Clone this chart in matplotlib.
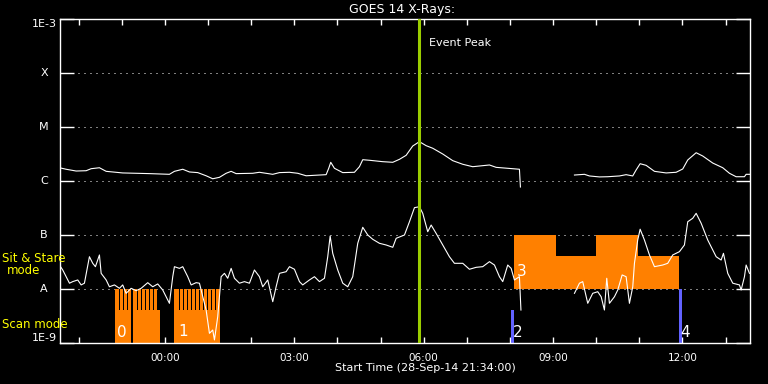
import numpy as np
import matplotlib
matplotlib.use('Agg')
import matplotlib.pyplot as plt
import matplotlib.transforms as mtransforms

# time axis: hours relative to 00:00 on 29-Sep-14 (start 21:34 the day before)
t_start, t_end = -2 - 26 / 60, 13 + 34 / 60
event_peak = 5.88

# GOES long channel (1-8 A)
long_t = [-2.446, -2.291, -2.059, -1.827, -1.711, -1.519, -1.363, -0.979, -0.359, 0.104,
          0.220, 0.413, 0.568, 0.761, 0.955, 1.108, 1.264, 1.419, 1.535, 1.651,
          2.036, 2.191, 2.500, 2.655, 2.887, 3.080, 3.274, 3.738, 3.798, 3.845,
          3.930, 4.123, 4.394, 4.510, 4.587, 4.742, 5.050, 5.283, 5.438, 5.593,
          5.746, 5.901, 6.057, 6.210, 6.442, 6.674, 6.906, 7.137, 7.525, 7.680,
          8.220, 8.243, 8.300,
          9.496, 9.728, 9.843, 10.075, 10.268, 10.539, 10.694, 10.847, 10.926, 11.019,
          11.158, 11.351, 11.622, 11.854, 12.007, 12.123, 12.318, 12.471, 12.703, 12.935,
          13.090, 13.245, 13.438, 13.477, 13.554]
long_f = [1.76e-6, 1.65e-6, 1.53e-6, 1.55e-6, 1.69e-6, 1.76e-6, 1.51e-6, 1.41e-6, 1.37e-6, 1.33e-6,
          1.51e-6, 1.65e-6, 1.47e-6, 1.43e-6, 1.25e-6, 1.10e-6, 1.17e-6, 1.39e-6, 1.51e-6, 1.37e-6,
          1.39e-6, 1.45e-6, 1.33e-6, 1.43e-6, 1.45e-6, 1.39e-6, 1.25e-6, 1.31e-6, 1.72e-6, 2.22e-6,
          1.72e-6, 1.43e-6, 1.45e-6, 1.84e-6, 2.48e-6, 2.42e-6, 2.28e-6, 2.22e-6, 2.52e-6, 2.99e-6,
          4.45e-6, 5.35e-6, 4.51e-6, 4.04e-6, 3.16e-6, 2.38e-6, 2.04e-6, 1.84e-6, 1.98e-6, 1.79e-6,
          1.65e-6, 7.74e-7, np.nan,
          1.29e-6, 1.33e-6, 1.24e-6, 1.19e-6, 1.20e-6, 1.24e-6, 1.31e-6, 1.24e-6, 1.60e-6, 2.09e-6,
          1.95e-6, 1.51e-6, 1.41e-6, 1.45e-6, 1.67e-6, 2.45e-6, 3.34e-6, 2.90e-6, 2.15e-6, 1.76e-6,
          1.39e-6, 1.20e-6, 1.20e-6, 1.33e-6, 1.33e-6]

# GOES short channel (0.5-4 A)
short_t = [-2.446, -2.370, -2.214, -2.138, -2.022, -1.943, -1.867, -1.751, -1.674, -1.612,
           -1.519, -1.479, -1.363, -1.287, -1.171, -1.055, -0.979, -0.900, -0.784, -0.668,
           -0.552, -0.399, -0.283, -0.167, -0.051, 0.104, 0.181, 0.220, 0.336, 0.413,
           0.529, 0.608, 0.723, 0.800, 0.877, 0.955, 1.032, 1.108, 1.148, 1.224,
           1.303, 1.380, 1.456, 1.535, 1.612, 1.728, 1.843, 1.959, 2.075, 2.191,
           2.268, 2.384, 2.500, 2.578, 2.655, 2.810, 2.887, 3.003, 3.119, 3.195,
           3.351, 3.467, 3.583, 3.699, 3.775, 3.831, 3.891, 4.007, 4.123, 4.239,
           4.355, 4.471, 4.587, 4.703, 4.819, 4.974, 5.130, 5.283, 5.362, 5.554,
           5.670, 5.786, 5.901, 5.978, 6.094, 6.173, 6.289, 6.442, 6.597, 6.713,
           6.906, 7.061, 7.217, 7.369, 7.525, 7.641, 7.757, 7.833, 7.949, 8.028,
           8.104, 8.220, 8.255, 8.300,
           9.496, 9.612, 9.688, 9.804, 9.920, 10.036, 10.115, 10.191, 10.245, 10.307,
           10.423, 10.500, 10.602, 10.694, 10.771, 10.848, 10.887, 10.963, 11.019, 11.119,
           11.235, 11.351, 11.543, 11.659, 11.775, 11.930, 12.046, 12.123, 12.239, 12.318,
           12.434, 12.587, 12.782, 12.897, 12.951, 13.051, 13.167, 13.322, 13.361, 13.438,
           13.477, 13.554]
short_f = [2.78e-8, 2.25e-8, 1.28e-8, 1.37e-8, 1.47e-8, 1.19e-8, 1.28e-8, 3.96e-8, 2.99e-8, 2.59e-8,
           4.27e-8, 1.95e-8, 1.47e-8, 1.10e-8, 1.19e-8, 1.03e-8, 1.19e-8, 8.32e-9, 1.03e-8, 9.31e-9,
           1.03e-8, 1.31e-8, 1.10e-8, 1.24e-8, 9.58e-9, 5.43e-9, 1.69e-8, 2.59e-8, 2.41e-8, 2.59e-8,
           1.69e-8, 1.19e-8, 1.31e-8, 1.28e-8, 7.19e-9, 4.08e-9, 1.51e-9, 1.74e-9, 1.14e-9, 3.07e-9,
           1.69e-8, 1.95e-8, 1.58e-8, 2.41e-8, 1.58e-8, 1.28e-8, 1.37e-8, 1.28e-8, 2.25e-8, 1.69e-8,
           1.10e-8, 1.47e-8, 5.82e-9, 1.10e-8, 1.95e-8, 2.09e-8, 2.59e-8, 2.32e-8, 1.37e-8, 1.19e-8,
           1.47e-8, 1.69e-8, 1.37e-8, 1.58e-8, 3.96e-8, 9.57e-8, 4.58e-8, 2.25e-8, 1.28e-8, 1.10e-8,
           1.69e-8, 7.02e-8, 1.39e-7, 1.00e-7, 8.32e-8, 7.02e-8, 6.53e-8, 5.92e-8, 8.69e-8, 1.00e-7,
           1.76e-7, 3.21e-7, 3.34e-7, 2.52e-7, 1.15e-7, 1.53e-7, 1.07e-7, 6.53e-8, 3.96e-8, 2.99e-8,
           2.99e-8, 2.32e-8, 2.52e-8, 2.59e-8, 3.21e-8, 2.78e-8, 1.69e-8, 1.37e-8, 2.78e-8, 2.41e-8,
           1.47e-8, 1.69e-8, 4.08e-9, np.nan,
           8.32e-9, 1.28e-8, 1.37e-8, 5.43e-9, 8.32e-9, 8.91e-9, 7.19e-9, 4.08e-9, 1.58e-8, 5.43e-9,
           7.19e-9, 9.58e-9, 1.82e-8, 1.69e-8, 5.43e-9, 1.10e-8, 2.99e-8, 8.07e-8, 1.28e-7, 8.07e-8,
           4.27e-8, 2.59e-8, 2.78e-8, 2.99e-8, 4.27e-8, 4.91e-8, 6.53e-8, 1.76e-7, 2.04e-7, 2.52e-7,
           1.65e-7, 8.07e-8, 3.96e-8, 3.44e-8, 4.58e-8, 1.95e-8, 1.28e-8, 1.19e-8, 9.58e-9, 1.69e-8,
           2.78e-8, 1.95e-8]

# IRIS observations: scan mode rasters (full height) and their blocks (low base)
scan_block_start = [-1.148, -0.742, 0.220]
scan_block_end = [-0.784, -0.111, 1.275]
raster_start = [-1.148, -1.035, -0.942, -0.849,
                -0.742, -0.618, -0.525, -0.432, -0.339, -0.246,
                0.220, 0.356, 0.449, 0.542, 0.635, 0.727, 0.820, 0.913, 1.006, 1.098, 1.191]
raster_end = [-1.075, -0.983, -0.890, -0.784,
              -0.658, -0.565, -0.472, -0.380, -0.287, -0.194,
              0.316, 0.409, 0.502, 0.594, 0.687, 0.780, 0.873, 0.965, 1.058, 1.151, 1.275]
scan_base_top = 4.1e-9

# sit & stare blocks
sns_start = [8.104, 9.071, 9.999, 10.963]
sns_end = [9.071, 9.999, 10.963, 11.930]
sns_top = [1e-7, 4.1e-8, 1e-7, 4.1e-8]

# short (blue) observations
blue_start = [8.03, 11.92]
blue_end = [8.10, 11.99]
blue_top = [4.1e-9, 1e-8]

# observation number labels
obs_ids = ['0', '1', '2', '3', '4']
obs_x = [-1.12, 0.31, 8.06, 8.15, 11.95]
obs_y = [1.55e-9, 1.6e-9, 1.55e-9, 2.07e-8, 1.55e-9]

class_vals = [1e-9, 1e-8, 1e-7, 1e-6, 1e-5, 1e-4, 1e-3]
class_labels = ['1E-9', 'A', 'B', 'C', 'M', 'X', '1E-3']

hour_ticks = list(range(-2, 14))
major_hours = [0, 3, 6, 9, 12]
major_labels = ['00:00', '03:00', '06:00', '09:00', '12:00']

orange = '#ff8000'
blue = '#6262ff'
px = 72 / 100  # one pixel in points

fig = plt.figure(figsize=(7.68, 3.84), dpi=100, facecolor='black')
ax = fig.add_axes([60 / 768, 41 / 384, 690 / 768, 324 / 384])
ax.set_facecolor('black')
ax.set_yscale('log')
ax.set_xlim(t_start, t_end)
ax.set_ylim(1e-9, 1e-3)

# gridlines at class levels
for v in class_vals[1:-1]:
    ax.axhline(v, color='white', lw=px, linestyle=(0, (1, 5)), zorder=1)

# observation blocks
bar_kw = dict(align='edge', linewidth=0, zorder=2, antialiased=False)
ax.bar(scan_block_start, [scan_base_top - 1e-9] * 3,
       width=np.array(scan_block_end) - np.array(scan_block_start),
       bottom=1e-9, color=orange, **bar_kw)
ax.bar(raster_start, [1e-8 - 1e-9] * len(raster_start),
       width=np.array(raster_end) - np.array(raster_start),
       bottom=1e-9, color=orange, **bar_kw)
ax.bar(sns_start, np.array(sns_top) - 1e-8,
       width=np.array(sns_end) - np.array(sns_start),
       bottom=1e-8, color=orange, **bar_kw)
ax.bar(blue_start, np.array(blue_top) - 1e-9,
       width=np.array(blue_end) - np.array(blue_start),
       bottom=1e-9, color=blue, **bar_kw)

ax.plot(long_t, long_f, color='white', lw=0.8, zorder=3)
ax.plot(short_t, short_f, color='white', lw=0.8, zorder=3)

ax.axvline(event_peak, color='#9acd00', lw=2.2, zorder=4)
ax.text(event_peak + 0.25, 3.6e-4, 'Event Peak', color='white', fontsize=8,
        ha='left', va='center')

for s, x, y in zip(obs_ids, obs_x, obs_y):
    ax.text(x, y, s, color='white', fontsize=11, ha='left', va='center', zorder=5)

# axes styling
for sp in ax.spines.values():
    sp.set_color('white')
    sp.set_linewidth(1.0)
ax.set_yticks(class_vals)
ax.set_yticklabels([])
ax.yaxis.set_minor_locator(matplotlib.ticker.NullLocator())
ax.tick_params(axis='y', which='major', direction='in', length=14 * px, width=1.0,
               color='white', left=True, right=True)
ax.set_xticks(hour_ticks, minor=True)
ax.set_xticks(major_hours)
ax.set_xticklabels(major_labels)
ax.tick_params(axis='x', which='both', direction='in', length=6 * px, width=1.0,
               color='white', top=True, bottom=True, labelcolor='white',
               labelsize=7.5, pad=7)

trans = mtransforms.blended_transform_factory(ax.transAxes, ax.transData)
for v, lab in zip(class_vals, class_labels):
    va = 'center'
    if lab == '1E-3':
        va = 'top'
    elif lab == '1E-9':
        va = 'bottom'
    ax.text(-16 / 690, v, lab, transform=trans, color='white', fontsize=8,
            ha='center', va=va, clip_on=False)

fig.text(402 / 768, 1 - 9.5 / 384, 'GOES 14 X-Rays:', color='white', fontsize=9,
         ha='center', va='center')
fig.text(425 / 768, 1 - 368 / 384, 'Start Time (28-Sep-14 21:34:00)', color='white',
         fontsize=8, ha='center', va='center')
fig.text(2 / 768, 1 - 259 / 384, 'Sit & Stare', color='yellow', fontsize=8.5,
         ha='left', va='center')
fig.text(24 / 768, 1 - 271 / 384, 'mode', color='yellow', fontsize=8.5,
         ha='center', va='center')
fig.text(2 / 768, 1 - 324 / 384, 'Scan mode', color='yellow', fontsize=8.5,
         ha='left', va='center')

fig.savefig('out.png', dpi=100, facecolor='black')
